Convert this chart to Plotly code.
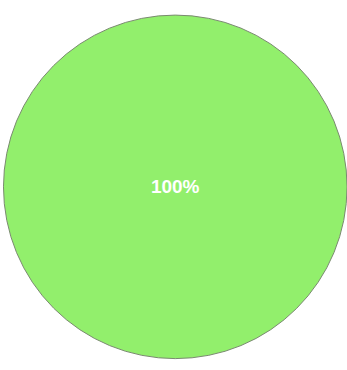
import plotly.graph_objects as go

labels = ["A"]
values = [100]
colors = ["#92ef6c"]

fig = go.Figure(go.Pie(
    labels=labels,
    values=values,
    marker=dict(colors=colors, line=dict(color="#7a8a70", width=1)),
    textinfo="percent",
    texttemplate="%{percent:.0%}",
    textposition="inside",
    insidetextfont=dict(color="white", size=19, family="Liberation Sans, Arial", weight="bold"),
    sort=False,
    showlegend=False,
    hoverinfo="none",
    domain=dict(x=[0.01, 1.0], y=[0.02, 0.97]),
))
fig.update_layout(
    width=347, height=370,
    margin=dict(l=0, r=0, t=0, b=0),
    paper_bgcolor="white",
    plot_bgcolor="white",
)
fig.write_html("out.html", config={"displayModeBar": False},
               post_script="document.body.style.margin='0';")
